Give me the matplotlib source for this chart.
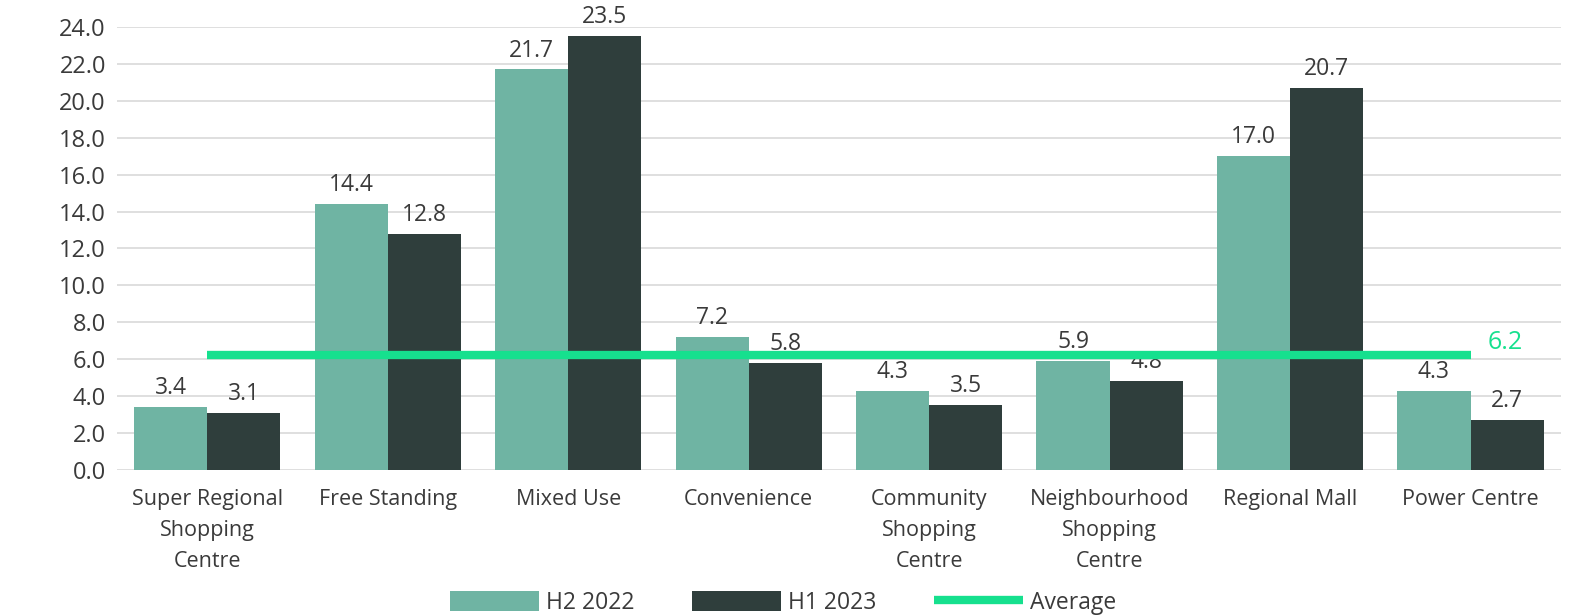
import matplotlib
matplotlib.use("Agg")
import matplotlib.pyplot as plt
import numpy as np

categories = ["Super Regional\nShopping\nCentre", "Free Standing", "Mixed Use", "Convenience",
              "Community\nShopping\nCentre", "Neighbourhood\nShopping\nCentre", "Regional Mall", "Power Centre"]
h2_2022 = [3.4, 14.4, 21.7, 7.2, 4.3, 5.9, 17.0, 4.3]
h1_2023 = [3.1, 12.8, 23.5, 5.8, 3.5, 4.8, 20.7, 2.7]
average = 6.2
yticks = [0, 2, 4, 6, 8, 10, 12, 14, 16, 18, 20, 22, 24]

plt.rcParams['font.family'] = ['Open Sans', 'DejaVu Sans']
c_light = "#6fb4a3"
c_dark = "#2f3e3c"
c_avg = "#16e08e"
txt = "#3a3a3a"

fig = plt.figure(figsize=(15.9, 6.15), dpi=100)
ax = fig.add_axes([0.0736, 0.236, 0.908, 0.72])

x = np.arange(len(categories))
w = 0.405
b1 = ax.bar(x - w/2, h2_2022, w, color=c_light, label="H2 2022", zorder=2)
b2 = ax.bar(x + w/2, h1_2023, w, color=c_dark, label="H1 2023", zorder=2)

for bars, vals in ((b1, h2_2022), (b2, h1_2023)):
    for r, v in zip(bars, vals):
        ax.annotate(f"{v:.1f}", (r.get_x() + r.get_width()/2, v), xytext=(0, 5),
                    textcoords="offset points", ha="center", va="bottom",
                    fontsize=16.5, color=txt, zorder=3)

avg_line, = ax.plot([x[0], x[-1]], [average, average], color=c_avg, lw=6, solid_capstyle="butt",
                    label="Average", zorder=4)
ax.annotate(f"{average:.1f}", (x[-1], average), xytext=(12, 0), textcoords="offset points",
            ha="left", va="bottom", fontsize=18, color=c_avg, zorder=5)

ax.set_xlim(-0.5, len(categories) - 0.5)
ax.set_ylim(0, 24)
ax.set_yticks(yticks)
ax.set_yticklabels([f"{t:.1f}" for t in yticks], fontsize=17, color=txt)
ax.set_xticks(x)
ax.set_xticklabels(categories, fontsize=15.5, color=txt, linespacing=1.6)
ax.tick_params(axis="y", length=0, pad=8)
ax.tick_params(axis="x", length=0, pad=14)
ax.yaxis.grid(True, color="#d9d9d9", lw=1.2, zorder=0)
ax.set_axisbelow(True)
for s in ax.spines.values():
    s.set_visible(False)

fig.legend(handles=[b1, b2, avg_line], labels=["H2 2022", "H1 2023", "Average"],
           loc="center", bbox_to_anchor=(0.4925, 0.02), ncol=3, frameon=False,
           fontsize=16.5, handlelength=3.9, handleheight=1.0, columnspacing=2.5,
           handletextpad=0.3, labelcolor=txt)

fig.savefig("out.png", dpi=100)
